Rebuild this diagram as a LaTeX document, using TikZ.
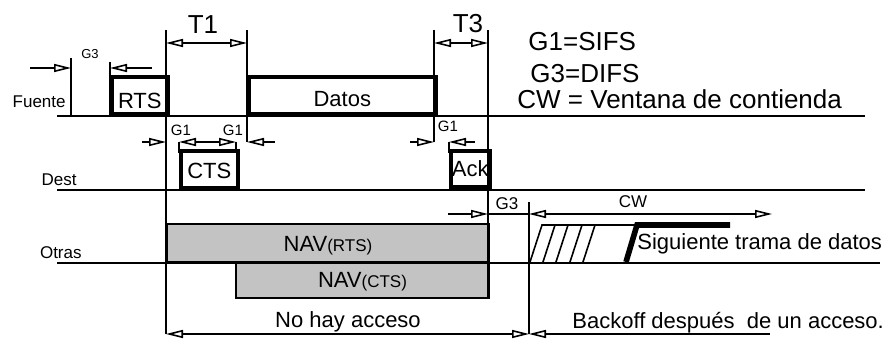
\documentclass[tikz,border=0pt]{standalone}
\usepackage{fontspec}
\setmainfont{Liberation Sans}
\usetikzlibrary{positioning,arrows.meta,calc}
\definecolor{NavGrey}{RGB}{195,195,195}
\tikzset{
  axis/.style={line width=1pt,draw=black},
  vline/.style={line width=0.9pt,draw=black},
  gaparrow/.style={-{Triangle[open,length=8.5pt,width=4pt]},line width=0.8pt},
  backarrow/.style={{Triangle[open,length=8.5pt,width=4pt]}-,line width=0.8pt},
  spanarrow/.style={{Triangle[open,length=8.5pt,width=4pt]}-{Triangle[open,length=8.5pt,width=4pt]},line width=0.8pt},
  slot/.style={draw,line width=1.8pt,inner sep=0pt,anchor=south west,
    align=center,font=\fontsize{11}{13}\selectfont},
  navbox/.style={draw,line width=1pt,fill=NavGrey,inner sep=0pt,anchor=south west,
    align=center,font=\fontsize{11}{13}\selectfont},
  rowlabel/.style={anchor=base east,inner sep=0pt,font=\fontsize{8.5}{10}\selectfont},
  gaplabel/.style={anchor=base,inner sep=0pt,font=\fontsize{7.5}{9}\selectfont},
  spanlabel/.style={anchor=base,inner sep=0pt,font=\fontsize{13}{15}\selectfont},
  legend/.style={anchor=base west,inner sep=0pt,font=\fontsize{13}{15}\selectfont},
  note/.style={anchor=base west,inner sep=0pt,font=\fontsize{11}{13}\selectfont}
}

\begin{document}
\begin{tikzpicture}[x=0.5pt,y=-0.5pt]
  \useasboundingbox (0,0) rectangle (890,338);
  % NAV periods
  \node[navbox,minimum width=161pt,text height=13.5pt,text depth=5.5pt] (navrts) at (166,263)
    {NAV{\fontsize{8.5}{10}\selectfont(RTS)}};
  \node[navbox,minimum width=126.5pt,text height=12.5pt,text depth=5.5pt] (navcts) at (235,299)
    {NAV{\fontsize{8.5}{10}\selectfont(CTS)}};
  % stations
  \draw[axis] (57,116) -- (865,116);
  \draw[axis] (57,190) -- (865,190);
  \draw[axis] (57,263) -- (880,263);
  \node[rowlabel] (fuente) at (66,107) {Fuente};
  \node[rowlabel] (dest) at (77,185) {Dest};
  \node[rowlabel] (otras) at (82,258) {Otras};
  % time marks
  \draw[vline] (71,58) -- (71,116);
  \draw[vline] (110,62) -- (110,116);
  \draw[vline] (166,30) -- (166,334);
  \draw[vline] (247,30) -- (247,142);
  \draw[vline] (434,30) -- (434,142);
  \draw[vline] (488,30) -- (488,299);
  \draw[vline] (529,202) -- (529,334);
  \draw[vline] (179,142) -- (179,153);
  \draw[vline] (236,142) -- (236,153);
  \draw[vline] (449,142) -- (449,153);
  % frames
  \node[slot,minimum width=28pt,text height=15.5pt,text depth=3pt] (rts) at (110,116) {RTS};
  \node[slot,minimum width=93.5pt,text height=14.5pt,text depth=4pt] (datos) at (247,116) {Datos};
  \node[slot,minimum width=28.5pt,text height=13.5pt,text depth=5pt] (cts) at (179,190) {CTS};
  \node[slot,minimum width=19.5pt,text height=12.5pt,text depth=5.5pt] (ack) at (449,189) {Ack};
  % spaces between frames
  \draw[gaparrow] (30,68) -- (71,68);
  \draw[gaparrow] (152,68) -- (110,68);
  \node[gaplabel,font=\fontsize{6.5}{8}\selectfont] (g3a) at (90,58) {G3};
  \draw[spanarrow] (166,43) -- (247,43);
  \node[spanlabel] (t1) at (203,33) {T1};
  \draw[spanarrow] (434,43) -- (488,43);
  \node[spanlabel] (t3) at (468,32) {T3};
  \draw[gaparrow] (142,142) -- (166,142);
  \draw[gaparrow] (207,142) -- (179,142);
  \draw[gaparrow] (207,142) -- (236,142);
  \draw[gaparrow] (275,142) -- (247,142);
  \node[gaplabel] (g1a) at (181,135) {G1};
  \node[gaplabel] (g1b) at (233,135) {G1};
  \draw[gaparrow] (410,142) -- (434,142);
  \draw[gaparrow] (475,142) -- (449,142);
  \node[gaplabel] (g1c) at (448,131) {G1};
  \draw[gaparrow] (448,214) -- (488,214);
  \draw[line width=0.8pt] (488,214) -- (529,214);
  \draw[spanarrow] (529,214) -- (772,214);
  \node[gaplabel,font=\fontsize{8.5}{10}\selectfont] (g3b) at (507,209) {G3};
  \node[gaplabel,font=\fontsize{8.5}{10}\selectfont] (cw) at (633,207) {CW};
  % contention window and next frame
  \draw[line width=0.8pt] (530,262) -- (542,225) -- (637,225);
  \foreach \x in {555,568,582,595}
    \draw[line width=0.8pt] (\x-12,262) -- (\x,225);
  \draw[line width=2.8pt] (626,262) -- (637,225) -- (730,225);
  \node[note] (sig) at (637,249) {Siguiente trama de datos};
  % access
  \draw[spanarrow] (166,334) -- (529,334);
  \draw[backarrow] (529,334) -- (770,334);
  \node[note,anchor=base] (nohay) at (348,327) {No hay acceso};
  \node[note] (backoff) at (572,328) {Backoff después\ \ de un acceso.};
  % legend
  \node[legend] (g1def) at (528,50) {G1=SIFS};
  \node[legend] (g3def) at (530,82) {G3=DIFS};
  \node[legend] (cwdef) at (517,108) {CW = Ventana de contienda};
\end{tikzpicture}
\end{document}
